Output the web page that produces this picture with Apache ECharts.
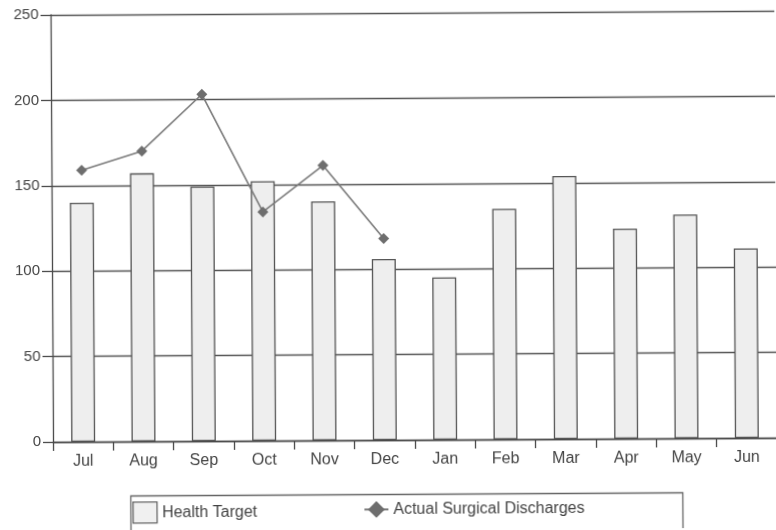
<!DOCTYPE html>
<html>
<head>
<meta charset="utf-8">
<script src="https://cdn.jsdelivr.net/npm/echarts@6/dist/echarts.min.js"></script>
<style>
  html, body { margin: 0; padding: 0; background: #fff; overflow: hidden; }
  #chart { width: 776px; height: 530px; transform: rotate(-0.33deg); transform-origin: 50% 50%; }
</style>
</head>
<body>
<div id="chart"></div>
<script>
// Monthly surgical discharges against the health target (financial year Jul–Jun)
const months = ['Jul', 'Aug', 'Sep', 'Oct', 'Nov', 'Dec', 'Jan', 'Feb', 'Mar', 'Apr', 'May', 'Jun'];
const healthTarget = [140, 157, 149, 152, 140, 106, 95, 135, 154, 123, 131, 111];
const actualDischarges = [159, 170, 203, 134, 161, 118];
const yTicks = { min: 0, max: 250, step: 50 };

const FONT = 'Liberation Sans, Arial, sans-serif';
const INK = '#4a4a4a';

const chart = echarts.init(document.getElementById('chart'), null, { renderer: 'canvas' });

chart.setOption({
  backgroundColor: '#ffffff',
  animation: false,
  grid: { left: 52, top: 13, width: 728, bottom: 90, containLabel: false },
  xAxis: {
    type: 'category',
    data: months,
    boundaryGap: true,
    axisLine: { show: true, lineStyle: { color: INK, width: 1.3 } },
    axisTick: { show: true, alignWithLabel: false, length: 9, lineStyle: { color: INK, width: 1.3 } },
    axisLabel: { color: '#444', fontFamily: FONT, fontSize: 16, margin: 12 },
    splitLine: { show: false }
  },
  yAxis: {
    type: 'value',
    min: yTicks.min,
    max: yTicks.max,
    interval: yTicks.step,
    axisLine: { show: true, lineStyle: { color: INK, width: 1.3 } },
    axisTick: { show: true, length: 10, lineStyle: { color: INK, width: 1.3 } },
    axisLabel: { color: '#444', fontFamily: FONT, fontSize: 15, margin: 12 },
    splitLine: { show: true, lineStyle: { color: '#555', width: 1.3 } }
  },
  legend: [
    {
      data: [{ name: 'Health Target', icon: 'rect' }],
      left: 131, top: 500, padding: 0,
      itemWidth: 24, itemHeight: 21,
      itemStyle: { color: '#f0f0f0', borderColor: '#666', borderWidth: 1.3 },
      textStyle: { color: '#444', fontFamily: FONT, fontSize: 16 },
      selectedMode: false
    },
    {
      data: ['Actual Surgical Discharges'],
      left: 362, top: 501, padding: 0,
      itemWidth: 24, itemHeight: 21,
      textStyle: { color: '#444', fontFamily: FONT, fontSize: 16 },
      selectedMode: false
    }
  ],
  graphic: [
    {
      type: 'rect',
      left: 127, top: 492,
      shape: { width: 552, height: 44 },
      style: { fill: 'none', stroke: '#666', lineWidth: 1.3 },
      silent: true
    }
  ],
  series: [
    {
      name: 'Health Target',
      type: 'bar',
      data: healthTarget,
      barWidth: 24,
      itemStyle: { color: '#eeeeee', borderColor: '#555', borderWidth: 1.3 },
      z: 2
    },
    {
      name: 'Actual Surgical Discharges',
      type: 'line',
      data: actualDischarges,
      symbol: 'diamond',
      symbolSize: 11,
      lineStyle: { color: '#7a7a7a', width: 1.6 },
      itemStyle: { color: '#6e6e6e' },
      z: 3
    }
  ]
});
</script>
</body>
</html>
